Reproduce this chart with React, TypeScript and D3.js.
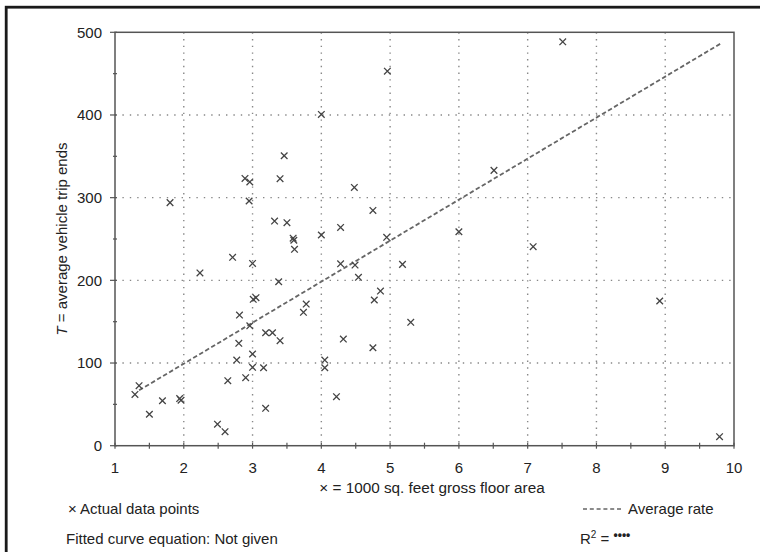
import React from "react";
import * as d3 from "d3";

const xValues = [1.29, 1.35, 1.5, 1.69, 1.8, 1.94, 1.96, 2.235, 2.49, 2.6, 2.64, 2.71, 2.77, 2.8, 2.81, 2.89, 2.9, 2.95, 2.96, 2.96, 3.0, 3.0, 3.0, 3.01, 3.05, 3.16, 3.19, 3.19, 3.29, 3.32, 3.38, 3.4, 3.4, 3.46, 3.5, 3.59, 3.6, 3.61, 3.74, 3.78, 4.0, 4.0, 4.05, 4.05, 4.22, 4.28, 4.28, 4.32, 4.48, 4.49, 4.54, 4.75, 4.75, 4.77, 4.86, 4.95, 4.96, 5.18, 5.3, 6.0, 6.51, 7.08, 7.51, 8.92, 9.79];
const yValues = [62, 72.6, 38, 54.4, 294, 57, 55, 209, 26, 17, 78.6, 227.8, 103.6, 123.8, 158, 323.3, 82.3, 296, 319, 145, 220.5, 110.9, 94.8, 177, 179, 94.3, 45.2, 136.6, 136.6, 271.7, 198.3, 127, 323, 350.7, 269.7, 251, 248.5, 237.5, 161.3, 171.3, 400.7, 254.8, 103.6, 94.3, 59.3, 264, 220, 129, 312.4, 218.5, 203.6, 284.6, 118.5, 176.2, 187, 252, 453, 219.3, 149.2, 258.8, 333, 240.7, 488.5, 175, 10.9];
const xTicks = [1, 2, 3, 4, 5, 6, 7, 8, 9, 10];
const yTicks = [0, 100, 200, 300, 400, 500];
const averageRate = 49.6;
const rateLineExtent = [1.35, 9.8];
const xTitle = "× = 1000 sq. feet gross floor area";
const legendPoints = "Actual data points";
const legendLine = "Average rate";
const fittedText = "Fitted curve equation: Not given";

const FONT = "'Liberation Sans', Arial, sans-serif";

export default function App() {
  const x = d3.scaleLinear().domain([1, 10]).range([115, 734]);
  const y = d3.scaleLinear().domain([0, 500]).range([445.7, 32.3]);
  const xMinor = d3.range(1, 10.01, 0.5);
  const yMinor = d3.range(0, 500.1, 50);
  const gridX = xTicks.slice(1, -1);
  const gridY = yTicks.slice(1, -1);
  const line = d3.line<number>().x((d) => x(d)).y((d) => y(d * averageRate));
  const s = 3.3;
  const axisColor = "#555";

  return (
    <svg width={760} height={552} style={{ position: "absolute", left: 0, top: 0, background: "#fff" }} fontFamily={FONT}>
      <rect x={0} y={0} width={760} height={552} fill="#fff" />
      <rect x={6.2} y={7.2} width={900} height={700} fill="none" stroke="#1a1a1a" strokeWidth={2.8} />
      {/* grid */}
      {gridX.map((t) => (
        <line key={"gx" + t} x1={x(t)} x2={x(t)} y1={y(500)} y2={y(0)} stroke="#888" strokeWidth={1.4} strokeDasharray="1.4 5.3" />
      ))}
      {gridY.map((t) => (
        <line key={"gy" + t} x1={x(1)} x2={x(10)} y1={y(t)} y2={y(t)} stroke="#888" strokeWidth={1.4} strokeDasharray="1.4 6" />
      ))}
      {/* plot frame */}
      <rect x={x(1)} y={y(500)} width={x(10) - x(1)} height={y(0) - y(500)} fill="none" stroke={axisColor} strokeWidth={1.5} />
      {/* x ticks */}
      {xMinor.map((t) => (
        <line key={"xt" + t} x1={x(t)} x2={x(t)} y1={y(0) - 3} y2={y(0) + 3} stroke={axisColor} strokeWidth={1.2} />
      ))}
      {yMinor.map((t) => (
        <line key={"yt" + t} x1={x(1) - (t % 100 === 0 ? 5 : 2)} x2={x(1) + 2} y1={y(t)} y2={y(t)} stroke={axisColor} strokeWidth={1.2} />
      ))}
      {/* tick labels */}
      {xTicks.map((t) => (
        <text key={"xl" + t} x={x(t)} y={473} textAnchor="middle" fontSize={15} fill="#222">
          {t}
        </text>
      ))}
      {yTicks.map((t) => (
        <text key={"yl" + t} x={102} y={y(t)} dy="0.36em" textAnchor="end" fontSize={15} fill="#222">
          {t}
        </text>
      ))}
      {/* average rate line */}
      <path d={line(rateLineExtent) || ""} fill="none" stroke="#666" strokeWidth={1.8} strokeDasharray="4.5 2.5" />
      {/* points */}
      {xValues.map((xv, i) => {
        const cx = x(xv);
        const cy = y(yValues[i]);
        return (
          <path
            key={"p" + i}
            d={`M${cx - s},${cy - s}L${cx + s},${cy + s}M${cx - s},${cy + s}L${cx + s},${cy - s}`}
            stroke="#444"
            strokeWidth={1.3}
            fill="none"
          />
        );
      })}
      {/* axis titles */}
      <text x={432} y={493} textAnchor="middle" fontSize={15.3} fill="#222">
        {xTitle}
      </text>
      <text transform="translate(62,239) rotate(-90)" dy="0.36em" textAnchor="middle" fontSize={15} fill="#222">
        <tspan fontStyle="italic">T</tspan>
        <tspan> = average vehicle trip ends</tspan>
      </text>
      {/* legend */}
      <text x={68} y={514} fontSize={15} fill="#222">
        {"× " + legendPoints}
      </text>
      <line x1={583} x2={623} y1={509} y2={509} stroke="#666" strokeWidth={1.6} strokeDasharray="4 2.8" />
      <text x={628} y={514} fontSize={15} fill="#222">
        {legendLine}
      </text>
      <text x={66} y={544} fontSize={15} fill="#222">
        {fittedText}
      </text>
      <text x={580} y={544} fontSize={15} fill="#222">
        R<tspan dy="-6" fontSize={10}>2</tspan>
        <tspan dy="6"> = </tspan>
        <tspan dy="-5" fontSize={12} fontWeight="bold">••••</tspan>
      </text>
    </svg>
  );
}
